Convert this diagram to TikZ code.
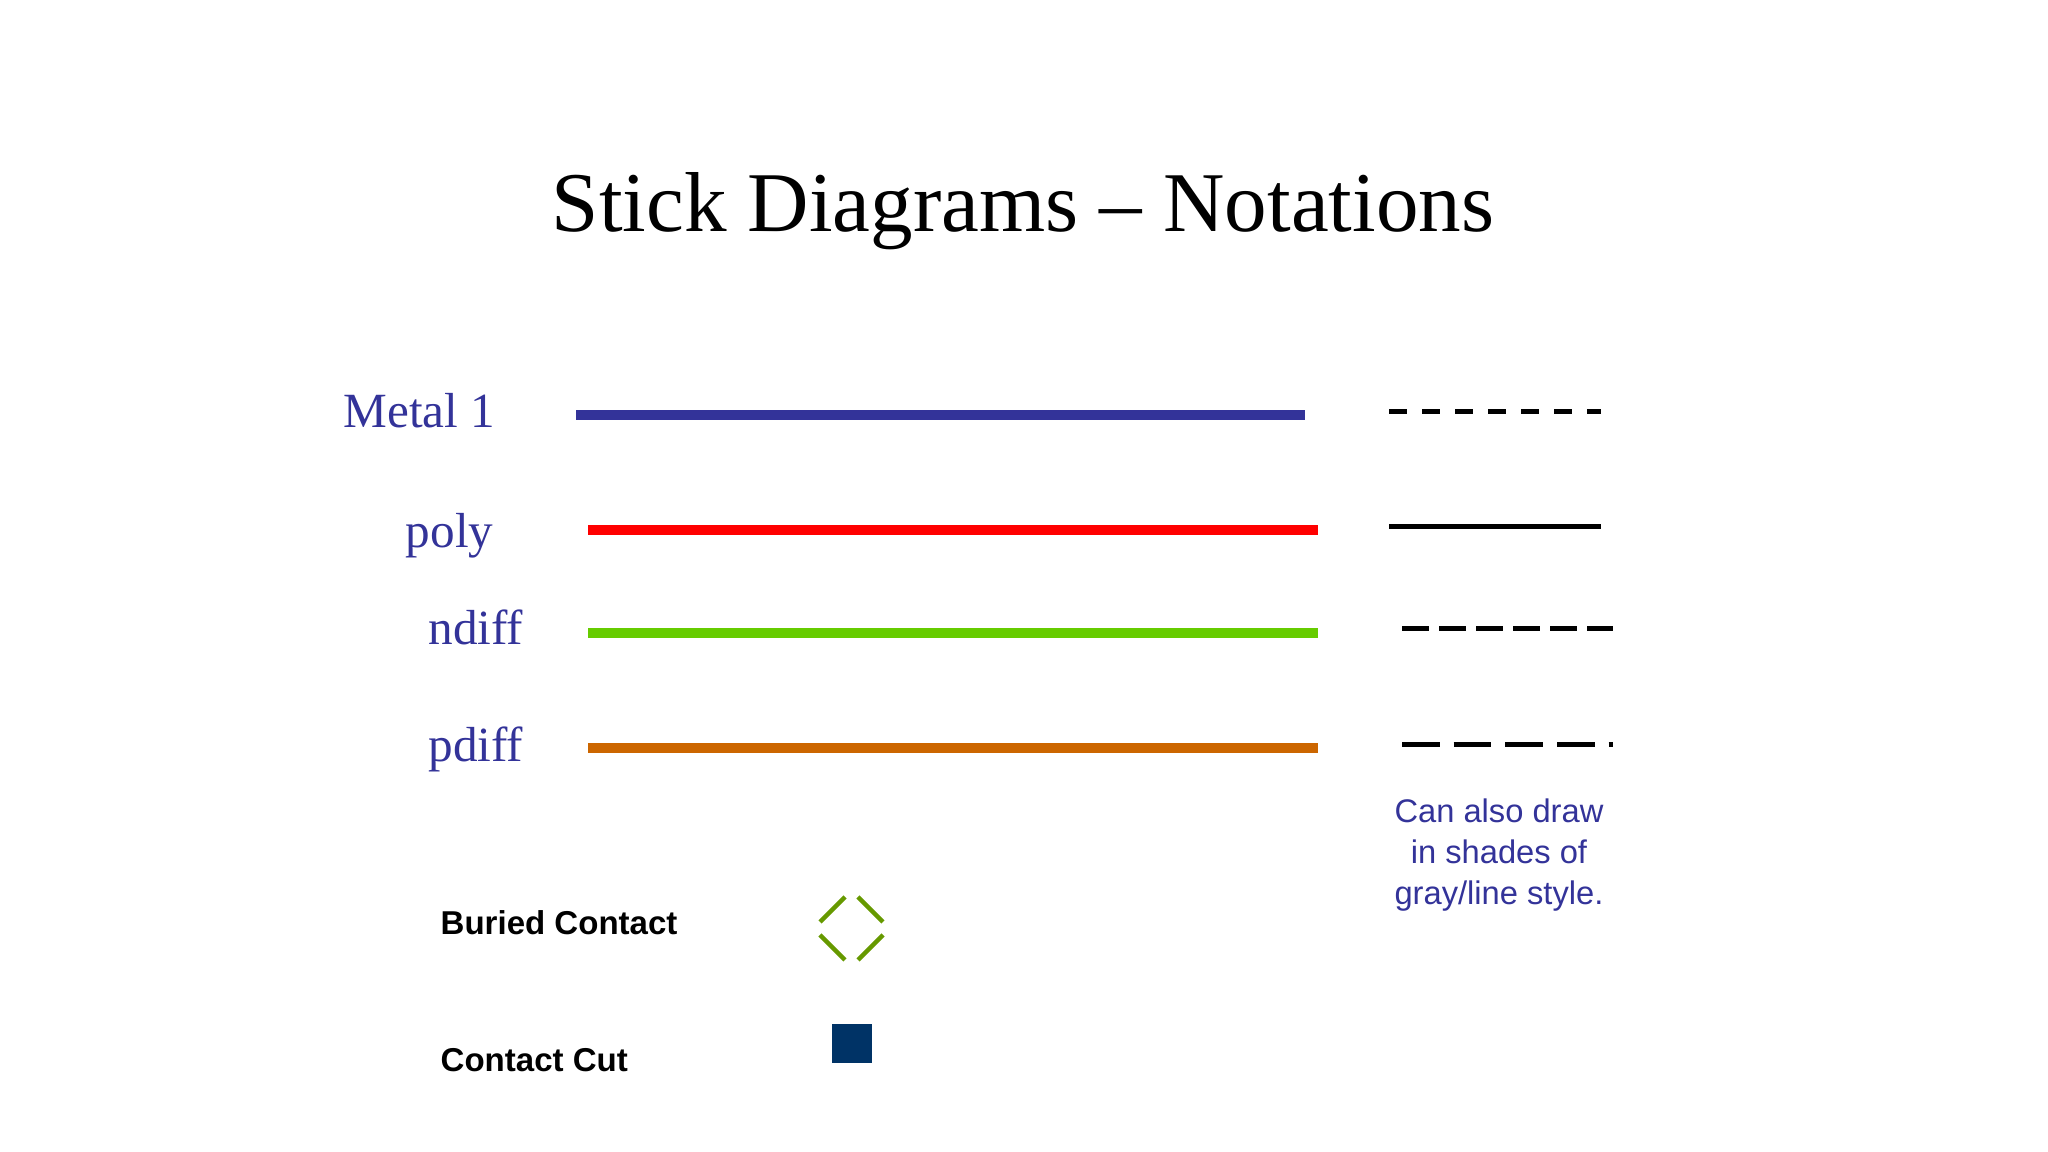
\documentclass[tikz,border=0pt]{standalone}
\usepackage{fontspec}
\setmainfont{Liberation Serif}
\setsansfont{Liberation Sans}
\usepackage{tikz}
\definecolor{labelblue}{HTML}{333399}
\definecolor{metalblue}{HTML}{333399}
\definecolor{ndiffgreen}{HTML}{66CC00}
\definecolor{pdifforange}{HTML}{CC6600}
\definecolor{buriedgreen}{HTML}{669900}
\definecolor{cutblue}{HTML}{003366}

\begin{document}
\begin{tikzpicture}[
    layer/.style={line width=2.85pt},
    sample/.style={line width=1.42pt, black},
    buried/.style={line width=1.3pt, buriedgreen},
    layer label/.style={anchor=base east, inner sep=0pt, text=labelblue,
        font=\fontsize{14}{17}\selectfont},
    legend label/.style={anchor=base west, inner sep=0pt,
        font=\sffamily\bfseries\fontsize{9.4}{11}\selectfont}]
        \useasboundingbox (0, 0) rectangle (20.48, 11.52);

        \node[anchor=base, inner sep=0pt, font=\fontsize{24.2}{29}\selectfont]
            (title) at (10.23, 9.20) {Stick Diagrams -- Notations};

        % layers, coloured
        \node[layer label] (metal) at (4.96, 7.24) {Metal 1};
        \node[layer label] (poly) at (4.94, 6.04) {poly};
        \node[layer label] (ndiff) at (5.24, 5.07) {ndiff};
        \node[layer label] (pdiff) at (5.24, 3.90) {pdiff};

        \draw[layer, metalblue] (5.76, 7.37) -- (13.05, 7.37);
        \draw[layer, red] (5.88, 6.22) -- (13.18, 6.22);
        \draw[layer, ndiffgreen] (5.88, 5.19) -- (13.18, 5.19);
        \draw[layer, pdifforange] (5.88, 4.04) -- (13.18, 4.04);

        % same layers in line styles
        \draw[sample, dash pattern=on 5.2pt off 4.2pt] (13.89, 7.40) -- (16.01, 7.40);
        \draw[sample] (13.89, 6.25) -- (16.01, 6.25);
        \draw[sample, dash pattern=on 7.7pt off 2.85pt] (14.02, 5.23) -- (16.13, 5.23);
        \draw[sample, dash pattern=on 10.7pt off 4pt] (14.02, 4.07) -- (16.13, 4.07);

        \node[anchor=north, inner sep=0pt, align=center, text=labelblue,
            font=\sffamily\fontsize{9.3}{11.7}\selectfont]
            (note) at (14.99, 3.54) {Can also draw\\in shades of\\gray/line style.};

        % contacts
        \node[legend label] (buriedtext) at (4.40, 2.17) {Buried Contact};
        \node[legend label] (cuttext) at (4.40, 0.80) {Contact Cut};

        \coordinate (bc) at (8.515, 2.235);
        \foreach \sx/\sy in {1/1, -1/1, 1/-1, -1/-1}
            \draw[buried] ([shift={(\sx*0.315, \sy*0.065)}]bc)
                -- ([shift={(\sx*0.065, \sy*0.315)}]bc);

        \node[fill=cutblue, minimum width=0.40cm, minimum height=0.39cm,
            inner sep=0pt] (cut) at (8.52, 1.085) {};
    \end{tikzpicture}
\end{document}
